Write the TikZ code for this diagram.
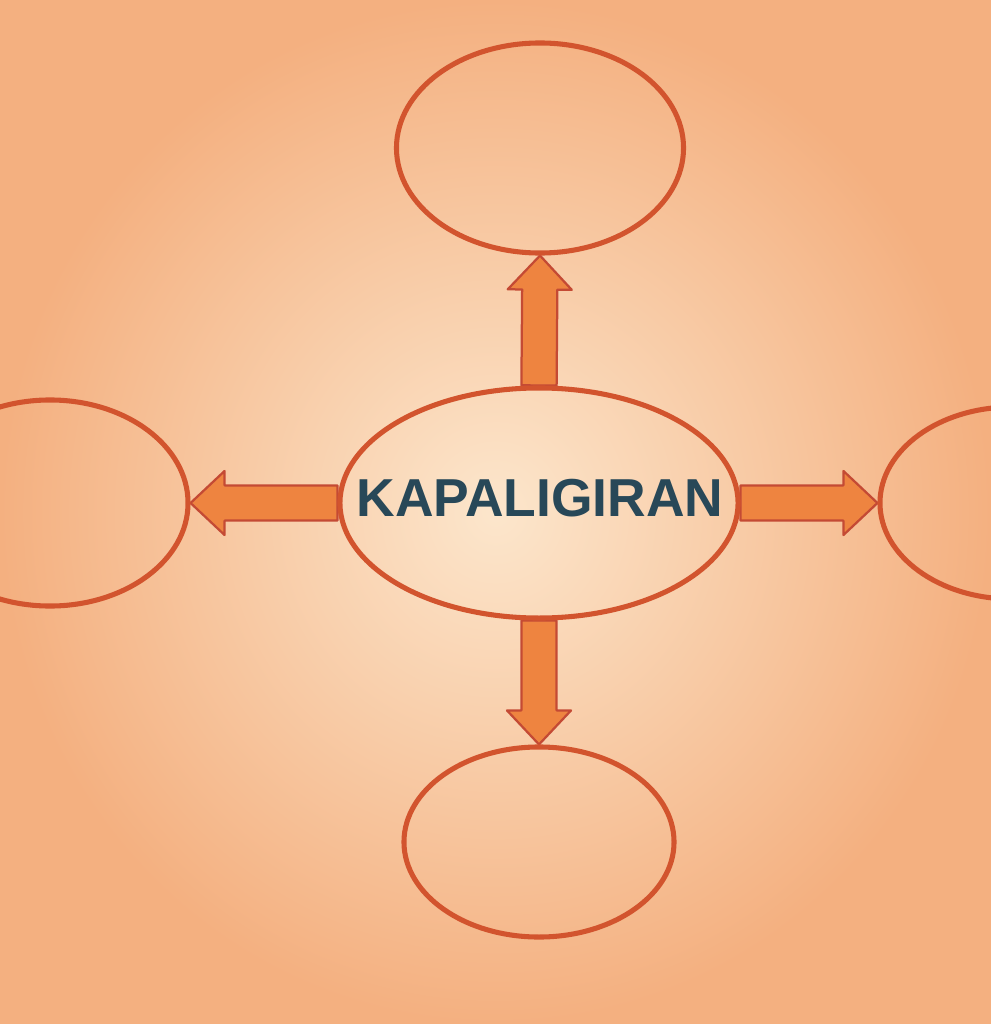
\documentclass[tikz,border=0pt]{standalone}
\usepackage{fontspec}
\newfontfamily\labelfont{Liberation Sans}
\usetikzlibrary{shapes.geometric,calc}
\pgfdeclarelayer{bg}
\pgfsetlayers{bg,main}
\definecolor{paper}{RGB}{244,176,128}
\definecolor{paperlight}{RGB}{252,230,204}
\definecolor{inkline}{RGB}{210,84,46}
\definecolor{arrowfill}{RGB}{238,132,64}
\definecolor{arrowedge}{RGB}{196,74,52}
\definecolor{textink}{RGB}{40,72,88}
\newcommand{\blockarr}[2]{%
  \coordinate (hb) at ($(#2)!0.85cm!(#1)$);
  \filldraw[arrowstyle] ($(#1)!0.44cm!90:(#2)$) -- ($(hb)!0.44cm!90:(#2)$)
    -- ($(hb)!0.8cm!90:(#2)$) -- (#2) -- ($(hb)!0.8cm!-90:(#2)$)
    -- ($(hb)!0.44cm!-90:(#2)$) -- ($(#1)!0.44cm!-90:(#2)$) -- cycle;}
\begin{document}
\begin{tikzpicture}[x=0.025cm,y=-0.025cm,
  bubble/.style={ellipse,draw=inkline,line width=3.6pt,inner sep=0pt},
  arrowstyle/.style={fill=arrowfill,draw=arrowedge,line width=1.6pt,line join=round}]
\useasboundingbox (0,0) rectangle (991,1024);
\clip (0,0) rectangle (991,1024);
\begin{pgfonlayer}{bg}
  \shade[inner color=paperlight,outer color=paper] (0,0) rectangle (991,1024);
\end{pgfonlayer}
\node[bubble,minimum width=9.95cm,minimum height=5.75cm] (c) at (539,503) {};
\node[inner sep=0pt,text=textink,font=\labelfont\bfseries\fontsize{38}{40}\selectfont]
  (ct) at (540,498) {KAPALIGIRAN};
\node[bubble,minimum width=7.175cm,minimum height=5.25cm] (t) at (540,148) {};
\node[bubble,minimum width=6.9cm,minimum height=5.15cm] (l) at (50,503) {};
\node[bubble,minimum width=6.6cm,minimum height=4.8cm] (r) at (1012,503) {};
\node[bubble,minimum width=6.75cm,minimum height=4.75cm] (b) at (539,842) {};
\begin{pgfonlayer}{bg}
  \blockarr{c.north}{t.south}
  \blockarr{c.west}{l.east}
  \blockarr{c.east}{r.west}
  \blockarr{c.south}{b.north}
\end{pgfonlayer}
\end{tikzpicture}
\end{document}
